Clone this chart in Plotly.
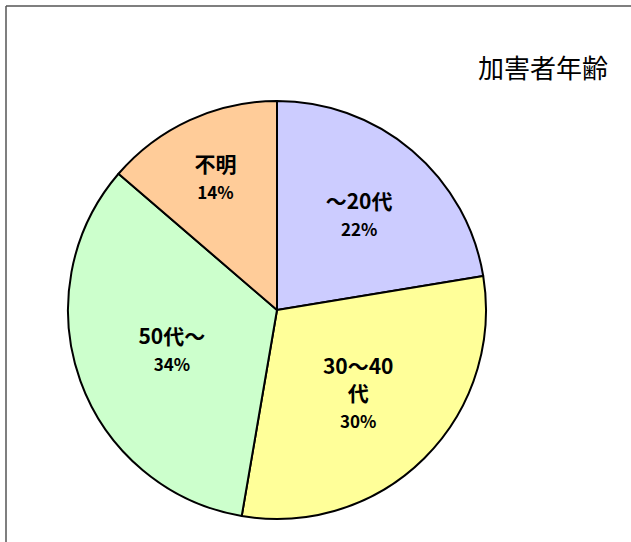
import plotly.graph_objects as go

labels = ["～20代", "30～40<br>代", "50代～", "不明"]
values = [22.4, 30.3, 33.6, 13.7]
colors = ["#CCCCFF", "#FFFF99", "#CCFFCC", "#FFCC99"]
title_text = "加害者年齢"

W, H = 631, 542
cx, cy, r = 277, 310, 209

fig = go.Figure(go.Pie(
    labels=labels,
    values=values,
    texttemplate="%{label}<br><span style='font-size:17px'>%{percent:.0%}</span>",
    textposition="inside",
    insidetextorientation="horizontal",
    sort=False,
    direction="clockwise",
    rotation=0,
    marker=dict(colors=colors, line=dict(color="black", width=2)),
    textfont=dict(family="Noto Sans CJK JP", size=21, color="black", weight="bold"),
    hoverinfo="skip",
    showlegend=False,
    domain=dict(x=[(cx - r) / W, (cx + r) / W], y=[(H - cy - r) / H, (H - cy + r) / H]),
))

fig.update_layout(
    width=W, height=H,
    margin=dict(l=0, r=0, t=0, b=0),
    paper_bgcolor="white",
    plot_bgcolor="white",
    annotations=[dict(
        text=title_text, x=476 / W, y=1 - 66 / H, xref="paper", yref="paper",
        xanchor="left", yanchor="middle", showarrow=False,
        font=dict(family="Noto Sans CJK JP", size=26, color="black"),
    )],
    shapes=[
        dict(type="line", xref="paper", yref="paper", x0=6 / W, x1=1, y0=1 - 6 / H, y1=1 - 6 / H,
             line=dict(color="#555555", width=1.5)),
        dict(type="line", xref="paper", yref="paper", x0=6 / W, x1=6 / W, y0=0, y1=1 - 6 / H,
             line=dict(color="#555555", width=1.5)),
    ],
)

fig.write_html("out.html", config={"displayModeBar": False},
               post_script="document.body.style.margin='0';")
